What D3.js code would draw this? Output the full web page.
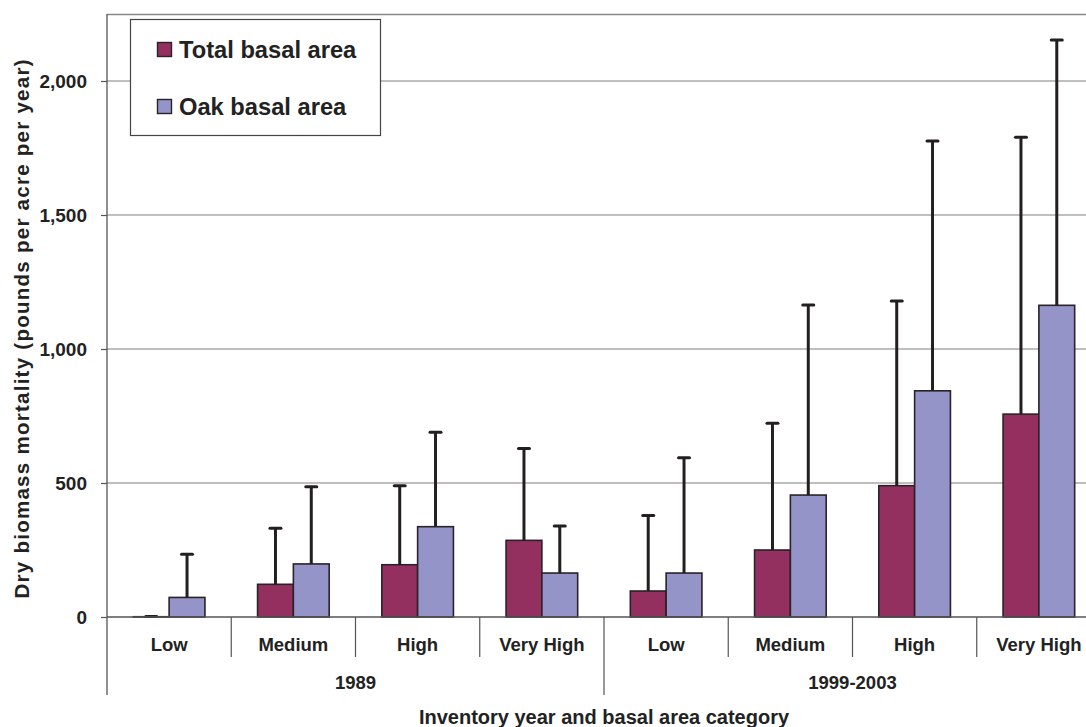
<!DOCTYPE html>
<html>
<head>
<meta charset="utf-8">
<script src="https://cdn.jsdelivr.net/npm/d3@7"></script>
<style>
  html, body { margin: 0; padding: 0; background: #fff; }
  svg { display: block; font-family: "Liberation Sans", Arial, sans-serif; font-weight: bold; }
</style>
</head>
<body>
<svg id="chart" width="1086" height="727"></svg>
<script>
// ---- data ----
const categories = ["Low", "Medium", "High", "Very High", "Low", "Medium", "High", "Very High"];
const years = ["1989", "1999-2003"];
const seriesNames = ["Total basal area", "Oak basal area"];
const totalValues = [1, 122, 195, 286, 97, 250, 490, 757];
const totalErrorTop = [2, 331, 490, 629, 379, 723, 1179, 1790];
const oakValues = [73, 198, 337, 164, 164, 455, 844, 1163];
const oakErrorTop = [234, 486, 689, 340, 594, 1164, 1776, 2153];
const yTicks = [0, 500, 1000, 1500, 2000];

const colors = ["#933060", "#9494C8"];

const svg = d3.select("#chart");
const pLeft = 107, pRight = 1101, pTop = 14, pBottom = 617;

const x0 = d3.scaleBand().domain(d3.range(categories.length)).range([pLeft, pRight]).padding(0);
const x1 = d3.scaleBand().domain([0, 1]).range([0, x0.bandwidth()]).paddingInner(0).paddingOuter(0.735);
const y = d3.scaleLinear().domain([0, 2250]).range([pBottom, pTop]);

// top border
svg.append("line").attr("x1", pLeft).attr("x2", 1086).attr("y1", pTop + 0.5).attr("y2", pTop + 0.5)
  .attr("stroke", "#888").attr("stroke-width", 1.3);

// gridlines
svg.append("g").selectAll("line").data(yTicks.filter(d => d > 0)).join("line")
  .attr("x1", pLeft).attr("x2", 1086)
  .attr("y1", d => y(d)).attr("y2", d => y(d))
  .attr("stroke", "#808080").attr("stroke-width", 1.2);

// y axis
const yAxis = d3.axisLeft(y).tickValues(yTicks).tickFormat(d3.format(",")).tickSize(6).tickPadding(14);
const gy = svg.append("g").attr("transform", `translate(${pLeft},0)`).call(yAxis);
gy.select(".domain").remove();
gy.selectAll(".tick line").attr("stroke", "#555").attr("stroke-width", 1.2);
gy.selectAll(".tick text").attr("font-size", 19).attr("font-weight", "bold")
  .attr("fill", "#222").attr("font-family", "'Liberation Sans', Arial, sans-serif");
svg.append("line").attr("x1", pLeft).attr("x2", pLeft).attr("y1", pTop).attr("y2", 695)
  .attr("stroke", "#555").attr("stroke-width", 1.3);

// bars
const series = [
  { vals: totalValues, err: totalErrorTop },
  { vals: oakValues, err: oakErrorTop }
];
const barG = svg.append("g");
series.forEach((s, si) => {
  barG.append("g").selectAll("rect").data(s.vals).join("rect")
    .attr("x", (d, i) => x0(i) + x1(si))
    .attr("y", d => y(d))
    .attr("width", x1.bandwidth())
    .attr("height", d => y(0) - y(d))
    .attr("fill", colors[si])
    .attr("stroke", "#2a2228").attr("stroke-width", 1.6);
});

// error bars
series.forEach((s, si) => {
  const g = barG.append("g");
  s.vals.forEach((v, i) => {
    const cx = x0(i) + x1(si) + x1.bandwidth() / 2;
    g.append("line").attr("x1", cx).attr("x2", cx).attr("y1", y(v)).attr("y2", y(s.err[i]))
      .attr("stroke", "#231f20").attr("stroke-width", 3);
    g.append("line").attr("x1", cx - 5.5).attr("x2", cx + 5.5).attr("y1", y(s.err[i])).attr("y2", y(s.err[i]))
      .attr("stroke", "#231f20").attr("stroke-width", 3).attr("stroke-linecap", "round");
  });
});

// x axis line
svg.append("line").attr("x1", pLeft).attr("x2", 1086).attr("y1", pBottom).attr("y2", pBottom)
  .attr("stroke", "#555").attr("stroke-width", 1.3);

// category separators
const seps = d3.range(1, categories.length + 1);
svg.append("g").selectAll("line").data(seps).join("line")
  .attr("x1", d => (d < categories.length ? x0(d) : pRight))
  .attr("x2", d => (d < categories.length ? x0(d) : pRight))
  .attr("y1", pBottom)
  .attr("y2", d => (d % 4 === 0 ? 695 : 657))
  .attr("stroke", "#555").attr("stroke-width", 1.2);

// category labels
svg.append("g").selectAll("text").data(categories).join("text")
  .attr("x", (d, i) => x0(i) + x0.bandwidth() / 2)
  .attr("y", 651)
  .attr("text-anchor", "middle")
  .attr("font-size", 18.5).attr("fill", "#222")
  .text(d => d);

// year labels
svg.append("g").selectAll("text").data(years).join("text")
  .attr("x", (d, i) => (x0(i * 4) + (i === 0 ? x0(4) : pRight)) / 2)
  .attr("y", 688.5)
  .attr("text-anchor", "middle")
  .attr("font-size", 18.5).attr("fill", "#222")
  .text(d => d);

// axis titles
svg.append("text").attr("x", (pLeft + pRight) / 2).attr("y", 723.5)
  .attr("text-anchor", "middle").attr("font-size", 20).attr("fill", "#222")
  .text("Inventory year and basal area category");

svg.append("text")
  .attr("transform", "translate(29,329) rotate(-90)")
  .attr("text-anchor", "middle").attr("font-size", 20.5).attr("fill", "#222")
  .attr("textLength", 539).attr("lengthAdjust", "spacing")
  .text("Dry biomass mortality (pounds per acre per year)");

// legend
const lg = svg.append("g");
lg.append("rect").attr("x", 130.5).attr("y", 19.5).attr("width", 250).attr("height", 116)
  .attr("fill", "#fff").attr("stroke", "#444").attr("stroke-width", 1.2);
seriesNames.forEach((name, i) => {
  const yy = 42 + i * 57;
  lg.append("rect").attr("x", 157.5).attr("y", yy + 0.5).attr("width", 14).attr("height", 14)
    .attr("fill", colors[i]).attr("stroke", "#2a2228").attr("stroke-width", 1.4);
  lg.append("text").attr("x", 179).attr("y", yy + 7.5).attr("dy", "0.36em")
    .attr("font-size", 23.7).attr("fill", "#222").text(name);
});
</script>
</body>
</html>
